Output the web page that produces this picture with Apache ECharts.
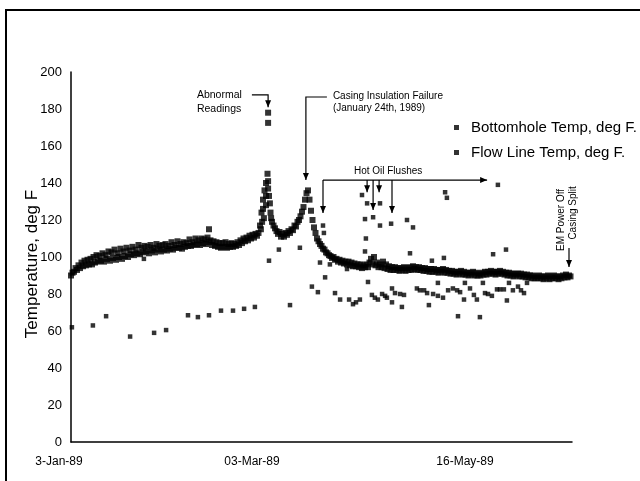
<!DOCTYPE html>
<html>
<head>
<meta charset="utf-8">
<script src="https://cdn.jsdelivr.net/npm/echarts@6/dist/echarts.min.js"></script>
<style>
  html, body { margin: 0; padding: 0; background: #fff; }
  #chart { width: 640px; height: 481px; }
</style>
</head>
<body>
<div id="chart"></div>
<script>
// Days are counted from 3-Jan-89.
const tickDays = [0, 59, 133];
const tickLabels = ['3-Jan-89', '03-Mar-89', '16-May-89'];
const tempMin = 0, tempMax = 200, tempStep = 20;
const dayMin = 0, dayMax = 167;

// Bottomhole temperature, two readings per day starting 3-Jan-89 (deg F)
const bhFirstDay = 0, bhStepDays = 0.5;
const bottomholeTemps = [
  90, 91.5, 92, 94, 93, 95.5, 94, 97, 95, 98,
  95.5, 98.5, 96, 99, 96, 100, 97, 101, 97.5, 100.5,
  98, 102, 97.5, 101, 99, 103, 98, 102.5, 99.5, 104,
  98.5, 102, 100, 104.5, 99, 103, 100.5, 105, 100, 103.5,
  101.5, 105.5, 101, 104, 102, 106.5, 101.5, 105, 102.5, 106,
  103, 105.5, 102, 106.5, 103.5, 105, 102.5, 107, 104, 106,
  103, 106.5, 104, 107, 103.5, 106, 104.5, 108, 104, 106.5,
  105, 108.5, 105, 107, 104.5, 108, 105.5, 107.5, 106, 109.5,
  106, 108, 106.5, 110, 107, 109, 106.5, 110, 107.5, 109.5,
  107, 110.5, 108, 109, 106.5, 108.5, 106, 108, 105.5, 107.5,
  105, 107.5, 105.5, 108, 105, 107, 105.5, 107.5, 105.5, 107,
  106, 108, 106.5, 109, 107.5, 110, 108.5, 110.5, 109, 111.5,
  110, 112, 110.5, 112.5, 111.5, 113, 117, 124, 131, 136,
  140, 145, 133, 124, 119, 117, 115.5, 114, 112.5, 113.5,
  111, 112.5, 111, 113, 112, 114, 113, 115, 114.5, 117,
  116.5, 119, 120, 122, 124.5, 127, 131, 134.5, 136, 131,
  125, 120, 116, 113, 110, 108.5, 107, 106, 104.5, 104,
  102.5, 102, 101, 100.5, 99.5, 100, 98.5, 99, 97.5, 98.5,
  97, 98, 96.5, 97.5, 96, 97.5, 95.5, 97, 95, 96.5,
  95, 96, 94.5, 96, 94, 95.5, 94.5, 96, 94.5, 97,
  99, 96, 100, 95.5, 97, 94.5, 96, 94.5, 97.5, 94,
  96, 93.5, 95, 93, 94.5, 93, 94.5, 93, 94, 92.5,
  94, 93, 94.5, 92.5, 94, 93, 94.5, 93, 95, 93.5,
  94.5, 93, 94.5, 93, 94, 92.5, 94, 92.5, 93.5, 92,
  93.5, 92, 93.5, 92, 93, 91.5, 93, 92, 93.5, 91.5,
  93, 91.5, 92.5, 91, 92.5, 91, 92, 90.5, 92, 91,
  92.5, 90.5, 92, 90.5, 91.5, 90, 91.5, 90.5, 92, 90,
  91.5, 90, 91, 90, 91.5, 90.5, 92, 90.5, 92, 91,
  92.5, 91, 92, 90.5, 92, 91, 92.5, 91, 92, 90.5,
  91.5, 90, 91.5, 90, 91, 89.5, 91, 90, 91, 89.5,
  91, 89.5, 90.5, 89, 90.5, 89, 90, 88.5, 90, 88.5,
  89.5, 88.5, 90, 88.5, 89.5, 88, 89.5, 88.5, 90, 88,
  89.5, 88.5, 90, 88.5, 89.5, 88, 89.5, 88.5, 90, 89,
  90.5, 89, 90, 89.5
];

// Additional bottomhole readings [day, deg F] around the spike and the abnormal readings
const bottomholeExtra = [
  [63.3, 115], [63.7, 119], [64, 126], [64.3, 121], [65, 128], [65, 133],
  [65.7, 141], [65.7, 137], [66.3, 129], [66.7, 121],
  [65.7, 172.5], [65.7, 178], [46, 115]
];

// Flow line temperature readings [day, deg F]
const flowLineReadings = [
  [0.3, 62], [7.3, 63], [11.7, 68], [19.7, 57], [27.7, 59], [31.7, 60.5],
  [39, 68.5], [42.3, 67.5], [46, 68.5], [50, 71], [54, 71], [57.7, 72],
  [61.3, 73], [73, 74], [24.3, 99], [66, 98], [69.3, 104], [76.3, 105],
  [83, 97], [80.3, 84], [82.3, 81], [84.7, 89], [84, 117], [84.3, 113],
  [86.3, 96], [88, 80.5], [89.7, 77], [92.7, 77], [94, 74.5], [95, 75.5],
  [96.3, 77], [92, 93.5], [97, 133.5], [98, 120.5], [98.7, 129], [100.7, 121.5],
  [103, 129], [103, 117], [106.7, 118], [112, 120], [114, 116], [98.3, 110],
  [98, 103], [113, 102], [120.3, 98], [124.3, 99.5], [124.7, 135], [125.3, 132],
  [142.3, 139], [140.7, 101.5], [145, 104], [99, 86.5], [100.3, 79.5], [101.3, 78],
  [102.3, 77], [103.7, 80], [104.7, 79], [105.3, 78], [107, 83], [107, 75.5],
  [108, 80.5], [109.7, 80], [111, 79.5], [110.3, 73], [115.3, 83], [116.3, 82],
  [117.7, 82], [118.7, 80.5], [119.3, 74], [120.7, 80], [122.3, 79], [124, 78],
  [122.3, 86], [125.7, 82], [127.3, 83], [128.7, 82], [129.7, 81], [129, 68],
  [131, 77], [131.3, 86], [133, 83], [134.3, 79.5], [135.3, 77], [136.3, 67.5],
  [137.3, 86], [138, 80.5], [139, 80], [140.3, 79], [142, 82.5], [143, 82.5],
  [144.3, 82.5], [145.3, 76.5], [146, 86], [147.3, 82], [149, 84], [150, 82],
  [151, 80.5], [152, 86]
];

const FONT = '"Liberation Sans", Arial, Helvetica, sans-serif';
const INK = '#000';

const bottomholeData = bottomholeTemps
  .map((t, i) => [bhFirstDay + i * bhStepDays, t])
  .concat(bottomholeExtra);

const chart = echarts.init(document.getElementById('chart'), null, { renderer: 'canvas' });

const labelRich = {
  l0: { fontFamily: FONT, fontSize: 12, color: INK, padding: [0, 24, 0, 0] },
  l1: { fontFamily: FONT, fontSize: 12, color: INK, padding: [0, 0, 0, 8] },
  l2: { fontFamily: FONT, fontSize: 12, color: INK, padding: [0, 10, 0, 0] }
};

chart.setOption({
  backgroundColor: '#fff',
  animation: false,
  grid: { left: 71, right: 68, top: 72, bottom: 39, containLabel: false },
  legend: {
    orient: 'vertical',
    left: 449,
    top: 114,
    icon: 'rect',
    itemWidth: 5,
    itemHeight: 5,
    itemGap: 8,
    textStyle: { fontFamily: FONT, fontSize: 15, color: INK, padding: [0, 0, 0, 7], lineHeight: 17 },
    data: ['Bottomhole Temp, deg F.', 'Flow Line Temp, deg F.']
  },
  xAxis: {
    type: 'value',
    min: dayMin,
    max: dayMax,
    splitLine: { show: false },
    axisLine: { show: true, onZero: false, lineStyle: { color: INK, width: 1.5 } },
    axisTick: { show: false },
    axisLabel: {
      customValues: tickDays,
      margin: 14,
      fontFamily: FONT,
      fontSize: 12,
      color: INK,
      formatter: function (v) {
        const k = tickDays.indexOf(v);
        return k < 0 ? '' : '{l' + k + '|' + tickLabels[k] + '}';
      },
      rich: labelRich
    }
  },
  yAxis: {
    type: 'value',
    min: tempMin,
    max: tempMax,
    interval: tempStep,
    splitLine: { show: false },
    axisLine: { show: true, lineStyle: { color: INK, width: 1.5 } },
    axisTick: { show: false },
    axisLabel: { margin: 9, fontFamily: FONT, fontSize: 13, color: INK },
    name: 'Temperature, deg F',
    nameLocation: 'middle',
    nameGap: 30,
    nameMoveOverlap: false,
    nameTextStyle: { fontFamily: FONT, fontSize: 17, color: INK, padding: [0, 0, 0, -14] }
  },
  series: [
    {
      name: 'Bottomhole Temp, deg F.',
      type: 'scatter',
      symbol: 'rect',
      symbolSize: 6,
      itemStyle: { color: INK },
      data: bottomholeData
    },
    {
      name: 'Flow Line Temp, deg F.',
      type: 'scatter',
      symbol: 'rect',
      symbolSize: 4.5,
      itemStyle: { color: INK },
      data: flowLineReadings
    }
  ]
});

// Callouts, anchored in data coordinates (day, deg F)
const P = (d, t) => chart.convertToPixel({ gridIndex: 0 }, [d, t]);
const line = (pts, w) => ({ type: 'polyline', silent: true, shape: { points: pts }, style: { stroke: INK, lineWidth: w || 1.2, fill: null } });
const headDown = (p) => ({ type: 'polygon', silent: true, shape: { points: [[p[0] - 3, p[1] - 7], [p[0] + 3, p[1] - 7], [p[0], p[1]]] }, style: { fill: INK } });
const headRight = (p) => ({ type: 'polygon', silent: true, shape: { points: [[p[0] - 7, p[1] - 3], [p[0] - 7, p[1] + 3], [p[0], p[1]]] }, style: { fill: INK } });
const label = (p, s, opt) => Object.assign({
  type: 'text', silent: true, x: p[0], y: p[1],
  style: Object.assign({ text: s, fill: INK, font: '10px ' + FONT, align: 'left', verticalAlign: 'middle' }, (opt && opt.style) || {})
}, opt && opt.rotation ? { rotation: opt.rotation } : {});

const g = [];
// frame
g.push({ type: 'line', silent: true, shape: { x1: 5, y1: 10, x2: 640, y2: 10 }, style: { stroke: INK, lineWidth: 2 } });
g.push({ type: 'line', silent: true, shape: { x1: 6, y1: 9, x2: 6, y2: 481 }, style: { stroke: INK, lineWidth: 2 } });

// Abnormal readings
{
  const a = P(60.3, 187.6), b = P(65.7, 187.6), tip = P(65.7, 181);
  g.push(line([a, b, tip]), headDown(tip));
  g.push(label([a[0] - 55, a[1]], 'Abnormal', { style: { font: '10.5px ' + FONT } }));
  g.push(label([a[0] - 55, a[1] + 14], 'Readings', { style: { font: '10.5px ' + FONT } }));
}
// Casing insulation failure
{
  const a = P(85.3, 186.5), b = P(78.3, 186.5), tip = P(78.3, 141.6);
  g.push(line([a, b, tip]), headDown(tip));
  g.push(label([a[0] + 6, a[1] - 1], 'Casing Insulation Failure'));
  g.push(label([a[0] + 6, a[1] + 11], '(January 24th, 1989)'));
}
// Hot oil flushes
{
  const yT = 141.6;
  const s = P(84, yT), e = P(138.7, yT);
  g.push(line([s, e]), headRight(e));
  const drops = [[84, 123.8], [98.7, 135], [100.7, 125.4], [102.7, 135], [107, 123.8]];
  drops.forEach(([d, t]) => {
    const top = P(d, yT), tip = P(d, t);
    g.push(line([top, tip]), headDown(tip));
  });
  const c = P(105.7, 146.5);
  g.push(label(c, 'Hot Oil Flushes', { style: { align: 'center' } }));
}
// EM power off
{
  const top = P(166, 104.9), tip = P(166, 94.6);
  g.push(line([top, tip]), headDown(tip));
  g.push(label([top[0] - 8, top[1] - 28], 'EM Power Off', { rotation: Math.PI / 2, style: { align: 'center' } }));
  g.push(label([top[0] + 4, top[1] - 35], 'Casing Split', { rotation: Math.PI / 2, style: { align: 'center' } }));
}

chart.setOption({ graphic: g });
</script>
</body>
</html>
